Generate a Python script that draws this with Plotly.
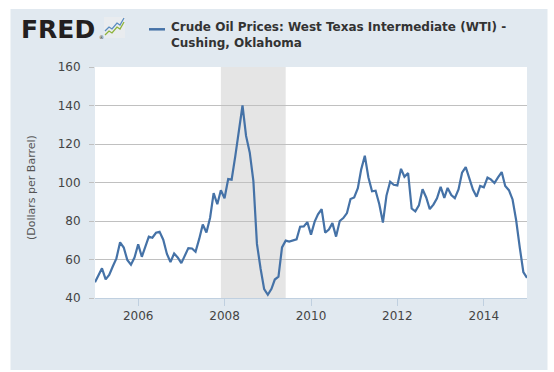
import plotly.graph_objects as go
import pandas as pd

# ---- data (end-of-month WTI, $/bbl) ----
months = pd.date_range("2005-01-01", periods=121, freq="MS").strftime("%Y-%m-%d").tolist()
wti_2005 = [48.2, 51.8, 55.4, 49.7, 52.0, 56.5, 60.6, 68.9, 66.2, 59.8, 57.3, 61.0]
wti_2006 = [67.9, 61.4, 66.6, 71.9, 71.3, 73.9, 74.4, 70.3, 62.9, 58.7, 63.1, 61.1]
wti_2007 = [58.1, 61.8, 65.9, 65.7, 64.0, 70.7, 78.2, 74.0, 81.7, 94.5, 88.7, 96.0]
wti_2008 = [91.8, 101.8, 101.5, 113.7, 127.4, 140.0, 124.2, 115.6, 100.7, 68.1, 55.2, 44.6]
wti_2009 = [41.7, 44.8, 49.6, 51.1, 66.3, 69.8, 69.3, 70.0, 70.5, 77.0, 77.2, 79.4]
wti_2010 = [72.9, 79.7, 83.5, 86.1, 74.0, 75.6, 78.9, 71.9, 80.0, 81.5, 84.1, 91.4]
wti_2011 = [92.2, 97.0, 106.7, 113.9, 102.7, 95.4, 95.7, 88.8, 79.2, 93.2, 100.4, 98.8]
wti_2012 = [98.5, 107.1, 103.0, 104.9, 86.5, 85.0, 88.1, 96.5, 92.2, 86.2, 88.5, 91.8]
wti_2013 = [97.7, 92.0, 97.2, 93.5, 91.9, 96.4, 105.1, 108.0, 102.4, 96.3, 92.6, 98.2]
wti_2014 = [97.5, 102.6, 101.6, 99.7, 102.7, 105.4, 98.2, 96.0, 91.2, 80.5, 66.2, 53.5]
wti_2015 = [50.5]
wti = wti_2005 + wti_2006 + wti_2007 + wti_2008 + wti_2009 + wti_2010 + wti_2011 + wti_2012 + wti_2013 + wti_2014 + wti_2015

rec_start, rec_end = "2007-12-01", "2009-06-01"
series_name = "Crude Oil Prices: West Texas Intermediate (WTI) -"
series_name2 = "Cushing, Oklahoma"
y_title = "(Dollars per Barrel)"

# ---- layout geometry ----
W, H = 554, 372
L, R, T, B = 95, 27, 67, 74
PW, PH = W - L - R, H - T - B


def px(x):
    return (x - L) / PW


def py(y):
    return (H - B - y) / PH


LINE = "#4572A7"
PANEL = "#E1E9F0"
FONT = "DejaVu Sans"

fig = go.Figure()
fig.add_trace(go.Scatter(x=months, y=wti, mode="lines",
                         line=dict(color=LINE, width=2.2),
                         hoverinfo="skip", showlegend=False))

shapes = [
    dict(type="rect", xref="paper", yref="paper", x0=px(10.5), x1=px(547.5),
         y0=py(370), y1=py(9), fillcolor=PANEL, line=dict(width=0), layer="below"),
    dict(type="rect", xref="paper", yref="paper", x0=0, x1=1, y0=0, y1=1,
         fillcolor="white", line=dict(width=0), layer="below"),
    dict(type="rect", xref="x", yref="paper", x0=rec_start, x1=rec_end, y0=0, y1=1,
         fillcolor="#E5E5E5", line=dict(width=0), layer="below"),
    # legend swatch
    dict(type="line", xref="paper", yref="paper", x0=px(149), x1=px(165),
         y0=py(29.3), y1=py(29.3), line=dict(color=LINE, width=2.5)),
    # FRED logo icon
    dict(type="rect", xref="paper", yref="paper", x0=px(104), x1=px(125),
         y0=py(38), y1=py(17), fillcolor="#E9ECEF", line=dict(width=0)),
    dict(type="path", xref="paper", yref="paper",
         path=f"M {px(105)},{py(35)} L {px(109)},{py(31)} L {px(112)},{py(33)} L {px(117)},{py(27)} L {px(120)},{py(29)} L {px(124)},{py(22)}",
         line=dict(color="#8DB33A", width=1.3)),
    dict(type="path", xref="paper", yref="paper",
         path=f"M {px(105)},{py(31)} L {px(109)},{py(27)} L {px(112)},{py(29)} L {px(117)},{py(23)} L {px(120)},{py(25)} L {px(124)},{py(18)}",
         line=dict(color="#5A8CC0", width=1.3)),
]

annotations = [
    dict(text="<b>FRED</b>", xref="paper", yref="paper", x=px(19), y=py(30),
         xanchor="left", yanchor="middle", showarrow=False,
         font=dict(family=FONT, size=25, color="#231F20")),
    dict(text="®", xref="paper", yref="paper", x=px(97), y=py(37),
         xanchor="left", yanchor="middle", showarrow=False,
         font=dict(family=FONT, size=5, color="#231F20")),
    dict(text=f"<b>{series_name}</b>", xref="paper", yref="paper", x=px(169), y=py(27.3),
         xanchor="left", yanchor="middle", showarrow=False,
         font=dict(family=FONT, size=12, color="#333333")),
    dict(text=f"<b>{series_name2}</b>", xref="paper", yref="paper", x=px(169), y=py(42.7),
         xanchor="left", yanchor="middle", showarrow=False,
         font=dict(family=FONT, size=12, color="#333333")),
    dict(text=y_title, xref="paper", yref="paper", x=px(31), y=py(188),
         xanchor="center", yanchor="middle", textangle=-90, showarrow=False,
         font=dict(family=FONT, size=11, color="#555555")),
]

fig.update_layout(
    width=W, height=H,
    margin=dict(l=L, r=R, t=T, b=B, pad=0),
    paper_bgcolor="white", plot_bgcolor="white",
    shapes=shapes, annotations=annotations,
    showlegend=False,
    xaxis=dict(type="date", range=["2005-01-01", "2015-01-01"],
               tick0="2006-01-01", dtick="M24", tickformat="%Y",
               showgrid=False, zeroline=False,
               showline=True, linecolor="#C0D0E0", linewidth=1,
               ticks="outside", ticklen=7, tickcolor="#C0D0E0", tickwidth=1,
               tickfont=dict(family=FONT, size=12, color="#444444")),
    yaxis=dict(range=[40, 160], dtick=20, tick0=40,
               showgrid=True, gridcolor="#C0C0C0", gridwidth=1,
               zeroline=False, showline=False,
               ticks="outside", ticklen=5, tickcolor="#C0C0C0",
               ticklabelstandoff=6,
               tickfont=dict(family=FONT, size=12, color="#444444")),
)

fig.write_html("out.html",
               config={"displayModeBar": False, "staticPlot": True},
               post_script="document.body.style.margin='0';document.body.style.overflow='hidden';")
